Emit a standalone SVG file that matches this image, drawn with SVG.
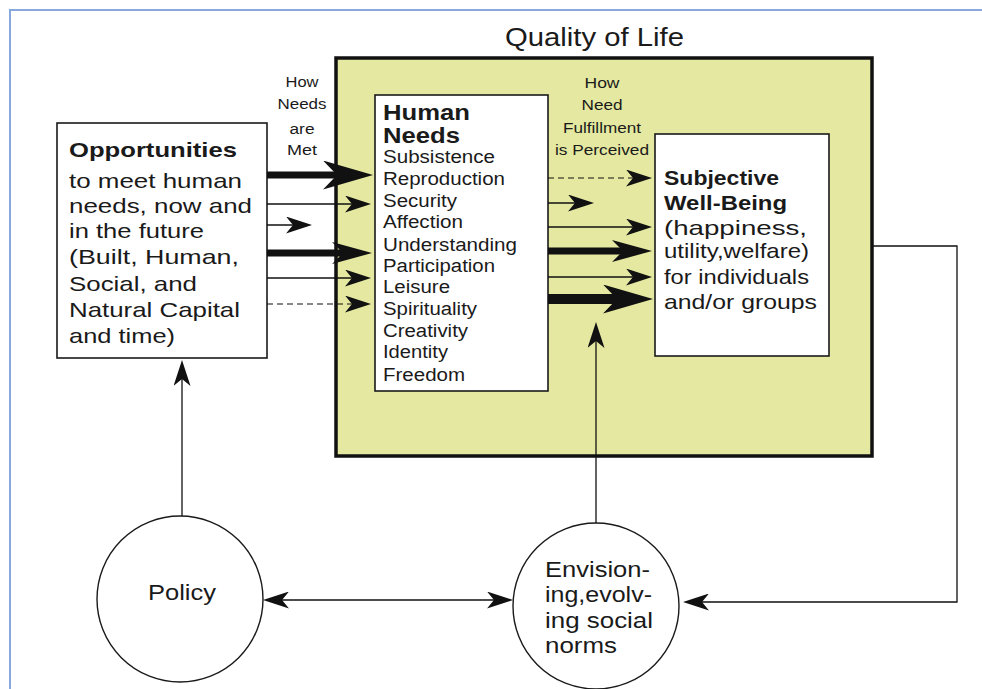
<svg xmlns="http://www.w3.org/2000/svg" width="982" height="689" viewBox="0 0 982 689">
<style>
text{font-family:"Liberation Sans",Arial,sans-serif;fill:#1a1a1a}
.b{font-weight:bold}
.box{fill:#fff;stroke:#1a1a1a;stroke-width:1.6}
.c{fill:#fff;stroke:#1a1a1a;stroke-width:1.4}
.ln{fill:none;stroke:#111;stroke-width:1.3}
.tk{fill:none;stroke:#111;stroke-width:7}
.tk2{fill:none;stroke:#111;stroke-width:10}
.ds{fill:none;stroke:#111;stroke-width:1.2;stroke-dasharray:6 4}
.lab{font-size:14px;text-anchor:middle}
.ah{fill:#111}
</style>
<defs>
<marker id="big" markerUnits="userSpaceOnUse" viewBox="0 0 50 29" markerWidth="50" markerHeight="29" refX="30" refY="14.5" orient="auto"><path class="ah" d="M0,0 L50,14.5 L0,29 L14,14.5 Z"/></marker>
<marker id="mid" markerUnits="userSpaceOnUse" viewBox="0 0 40 22" markerWidth="40" markerHeight="22" refX="24" refY="11" orient="auto"><path class="ah" d="M0,0 L40,11 L0,22 L11,11 Z"/></marker>
<marker id="thin" markerUnits="userSpaceOnUse" viewBox="0 0 26 17" markerWidth="26" markerHeight="17" refX="16" refY="8.5" orient="auto-start-reverse"><path class="ah" d="M0,0 L26,8.5 L0,17 L7,8.5 Z"/></marker>
</defs>
<rect x="0" y="0" width="982" height="689" fill="#fff"/>
<g id="frame" fill="none" stroke="#86a8dc" stroke-width="2">
<path d="M10,689 L10,10 L982,10"/>
</g>
<g id="quality-of-life">
<text x="505" y="46" font-size="26" textLength="179" lengthAdjust="spacingAndGlyphs">Quality of Life</text>
<rect x="336" y="58" width="536" height="398" fill="#e4e8a0" stroke="#111" stroke-width="3.5"/>
</g>
<g id="opportunities">
<rect class="box" x="57" y="123" width="210" height="235"/>
<text class="b" x="69" y="157" font-size="20.5" textLength="168" lengthAdjust="spacingAndGlyphs">Opportunities</text>
<g font-size="21">
<text x="69" y="188" textLength="173" lengthAdjust="spacingAndGlyphs">to meet human</text>
<text x="69" y="213" textLength="183" lengthAdjust="spacingAndGlyphs">needs, now and</text>
<text x="69" y="238" textLength="135" lengthAdjust="spacingAndGlyphs">in the future</text>
<text x="69" y="264" textLength="170" lengthAdjust="spacingAndGlyphs">(Built, Human,</text>
<text x="69" y="291" textLength="128" lengthAdjust="spacingAndGlyphs">Social, and</text>
<text x="69" y="317" textLength="171" lengthAdjust="spacingAndGlyphs">Natural Capital</text>
<text x="69" y="343" textLength="106" lengthAdjust="spacingAndGlyphs">and time)</text>
</g>
</g>
<g id="human-needs">
<rect class="box" x="375" y="95" width="173" height="296"/>
<text class="b" x="383" y="120" font-size="22.5" textLength="87" lengthAdjust="spacingAndGlyphs">Human</text>
<text class="b" x="383" y="143" font-size="22.5" textLength="77" lengthAdjust="spacingAndGlyphs">Needs</text>
<g font-size="18">
<text x="383" y="163" textLength="112" lengthAdjust="spacingAndGlyphs">Subsistence</text>
<text x="383" y="185" textLength="122" lengthAdjust="spacingAndGlyphs">Reproduction</text>
<text x="383" y="207" textLength="74" lengthAdjust="spacingAndGlyphs">Security</text>
<text x="383" y="228" textLength="80" lengthAdjust="spacingAndGlyphs">Affection</text>
<text x="383" y="251" textLength="134" lengthAdjust="spacingAndGlyphs">Understanding</text>
<text x="383" y="272" textLength="112" lengthAdjust="spacingAndGlyphs">Participation</text>
<text x="383" y="293" textLength="67" lengthAdjust="spacingAndGlyphs">Leisure</text>
<text x="383" y="315" textLength="94" lengthAdjust="spacingAndGlyphs">Spirituality</text>
<text x="383" y="337" textLength="85" lengthAdjust="spacingAndGlyphs">Creativity</text>
<text x="383" y="358" textLength="65" lengthAdjust="spacingAndGlyphs">Identity</text>
<text x="383" y="381" textLength="82" lengthAdjust="spacingAndGlyphs">Freedom</text>
</g>
</g>
<g id="subjective-well-being">
<rect class="box" x="655" y="134" width="174" height="222"/>
<text class="b" x="664" y="185" font-size="20" textLength="115" lengthAdjust="spacingAndGlyphs">Subjective</text>
<text class="b" x="664" y="210" font-size="20" textLength="123" lengthAdjust="spacingAndGlyphs">Well-Being</text>
<g font-size="21">
<text x="664" y="235" textLength="143" lengthAdjust="spacingAndGlyphs">(happiness,</text>
<text x="664" y="258" textLength="145" lengthAdjust="spacingAndGlyphs">utility,welfare)</text>
<text x="664" y="284" textLength="145" lengthAdjust="spacingAndGlyphs">for individuals</text>
<text x="664" y="309" textLength="153" lengthAdjust="spacingAndGlyphs">and/or groups</text>
</g>
</g>
<g id="policy">
<circle class="c" cx="180" cy="599" r="83"/>
<text x="148" y="600" font-size="22" textLength="68" lengthAdjust="spacingAndGlyphs">Policy</text>
</g>
<g id="envisioning">
<circle class="c" cx="596" cy="606" r="83"/>
<g font-size="22">
<text x="545" y="577" textLength="105" lengthAdjust="spacingAndGlyphs">Envision-</text>
<text x="545" y="602" textLength="107" lengthAdjust="spacingAndGlyphs">ing,evolv-</text>
<text x="545" y="628" textLength="108" lengthAdjust="spacingAndGlyphs">ing social</text>
<text x="545" y="653" textLength="72" lengthAdjust="spacingAndGlyphs">norms</text>
</g>
</g>
<g id="labels">
<text class="lab" x="302" y="87" textLength="33" lengthAdjust="spacingAndGlyphs">How</text>
<text class="lab" x="302" y="109" textLength="49" lengthAdjust="spacingAndGlyphs">Needs</text>
<text class="lab" x="302" y="134" textLength="25" lengthAdjust="spacingAndGlyphs">are</text>
<text class="lab" x="302" y="155" textLength="30" lengthAdjust="spacingAndGlyphs">Met</text>
<text class="lab" x="602" y="88" textLength="35" lengthAdjust="spacingAndGlyphs">How</text>
<text class="lab" x="602" y="110" textLength="41" lengthAdjust="spacingAndGlyphs">Need</text>
<text class="lab" x="602" y="133" textLength="78" lengthAdjust="spacingAndGlyphs">Fulfillment</text>
<text class="lab" x="602" y="155" textLength="94" lengthAdjust="spacingAndGlyphs">is Perceived</text>
</g>
<g id="connectors">
<line class="tk" x1="267" y1="175" x2="353" y2="175" marker-end="url(#big)"/>
<line class="ln" x1="267" y1="204" x2="361" y2="204" marker-end="url(#thin)"/>
<line class="ln" x1="267" y1="225" x2="302" y2="225" marker-end="url(#thin)"/>
<line class="tk" x1="267" y1="253" x2="356" y2="253" marker-end="url(#mid)"/>
<line class="ln" x1="267" y1="278" x2="361" y2="278" marker-end="url(#thin)"/>
<line class="ds" x1="267" y1="304" x2="361" y2="304" marker-end="url(#thin)"/>
<line class="ds" x1="548" y1="178" x2="642" y2="178" marker-end="url(#thin)"/>
<line class="ln" x1="548" y1="203" x2="584" y2="203" marker-end="url(#thin)"/>
<line class="ln" x1="548" y1="227" x2="642" y2="227" marker-end="url(#thin)"/>
<line class="tk" x1="548" y1="251" x2="636" y2="251" marker-end="url(#mid)"/>
<line class="ln" x1="548" y1="277" x2="642" y2="277" marker-end="url(#thin)"/>
<line class="tk2" x1="548" y1="299" x2="633" y2="299" marker-end="url(#big)"/>
<line class="ln" x1="596" y1="523" x2="596" y2="332" marker-end="url(#thin)"/>
<line class="ln" x1="182" y1="516" x2="182" y2="370" marker-end="url(#thin)"/>
<line class="ln" x1="273" y1="600" x2="503" y2="600" marker-start="url(#thin)" marker-end="url(#thin)"/>
<polyline class="ln" points="873,246 957,246 957,602 693,602" marker-end="url(#thin)"/>
</g>
</svg>
